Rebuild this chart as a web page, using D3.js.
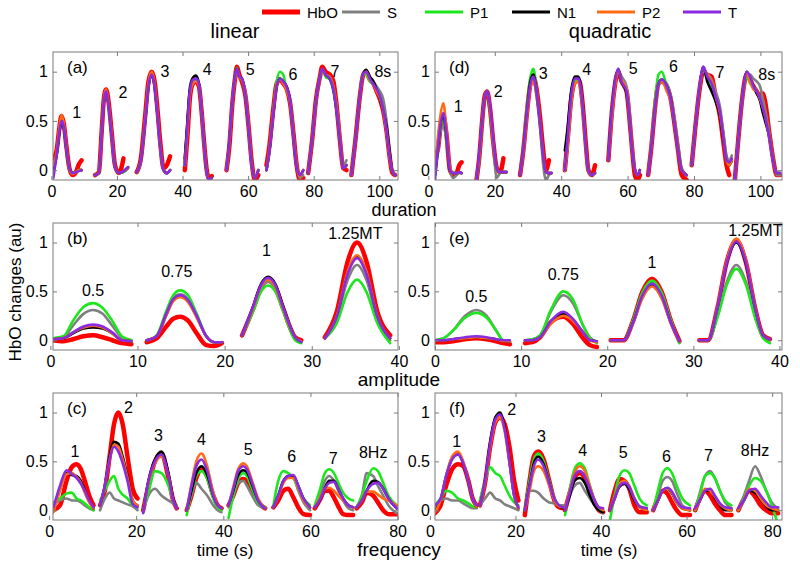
<!DOCTYPE html>
<html><head><meta charset="utf-8">
<script src="https://cdn.jsdelivr.net/npm/d3@7"></script>
<style>body{margin:0;background:#fff} svg{display:block;font-family:Arial,"Liberation Sans",sans-serif}</style>
</head><body><svg id="c" width="800" height="570"></svg>
<script>
// ---------- series ----------
const seriesNames = ["HbO","S","P1","N1","P2","T"];
const seriesColors = ["#ff0000","#808080","#1ee61e","#000000","#ff6a13","#8a2be2"];
const seriesWidths = [4.5,2.6,2.6,2.6,2.6,2.6];

// ---------- (a) duration, linear ----------
const durLinX = [
 [0.6,1.6,2.4,3.1,3.8,4.6,5.5,6.5,7.5,8.4,9.2],
 [13.3,14.5,15.3,16.0,16.7,17.5,18.4,19.4,20.6,22.0,23.4],
 [26.0,27.3,28.6,29.6,30.6,31.5,32.4,33.3,34.2,35.2,36.2],
 [40.7,41.5,42.3,43.2,44.1,45.0,45.8,46.6,47.3,48.0,48.9],
 [53.4,54.3,55.2,56.0,56.6,57.3,58.1,59.2,60.2,61.1,62.1,63.1],
 [65.6,66.5,67.6,68.7,69.7,70.7,71.7,72.8,73.8,74.8,75.8,76.8],
 [78.3,79.5,80.7,81.9,82.6,83.6,84.9,86.0,87.0,88.0,89.0,90.0],
 [91.5,92.7,93.9,95.1,96.0,97.1,98.2,99.2,100.2,101.2,102.2,103.1,103.9,104.8]];
const durLinHbO = [
 [0.12,0.2,0.42,0.55,0.47,0.24,0.02,-0.05,-0.02,0.06,0.1],
 [-0.05,-0.02,0.37,0.72,0.82,0.68,0.38,0.05,-0.03,0.12,null],
 [-0.02,0.12,0.55,0.9,1.0,0.9,0.6,0.25,0.02,0.05,0.14],
 [0.0,0.35,0.75,0.88,0.9,0.85,0.6,0.27,0.02,-0.08,-0.06],
 [0.0,0.25,0.68,0.93,1.05,0.97,0.9,0.75,0.42,0.08,-0.1,-0.05],
 [0.05,0.25,0.6,0.88,0.92,0.88,0.83,0.68,0.38,0.05,-0.1,-0.08],
 [-0.03,0.3,0.72,0.95,1.05,1.0,0.97,0.9,0.65,0.3,0.02,0.0],
 [-0.05,0.3,0.7,0.97,1.0,0.92,0.88,0.8,0.72,0.6,0.4,0.15,-0.02,-0.05]];
const durLinS = [
 [0.0,0.15,0.38,0.49,0.43,0.2,0.0,-0.03,-0.02,0.0,0.0],
 [-0.05,-0.03,0.35,0.7,0.8,0.65,0.35,0.03,-0.03,-0.02,0.02],
 [-0.02,0.1,0.5,0.85,0.97,0.85,0.55,0.2,0.0,-0.03,0.0],
 [0.05,0.45,0.8,0.9,0.92,0.87,0.6,0.25,0.0,-0.1,-0.08],
 [0.0,0.3,0.7,0.93,1.02,0.95,0.92,0.78,0.42,0.06,-0.08,0.0],
 [0.0,0.2,0.55,0.85,0.92,0.9,0.83,0.7,0.38,0.05,-0.08,-0.05],
 [-0.03,0.3,0.7,0.93,1.0,0.97,0.95,0.85,0.65,0.35,0.05,0.1],
 [-0.05,0.3,0.7,0.97,1.0,0.95,0.9,0.85,0.8,0.72,0.5,0.2,0.0,-0.05]];
const durLinP1 = [
 [0.0,0.15,0.38,0.5,0.44,0.21,0.01,-0.03,-0.02,0.0,0.0],
 [-0.05,-0.03,0.35,0.7,0.8,0.65,0.35,0.03,-0.03,-0.02,0.02],
 [-0.02,0.1,0.5,0.86,0.99,0.86,0.55,0.2,0.0,-0.03,0.0],
 [0.05,0.45,0.82,0.92,0.93,0.88,0.6,0.25,0.0,-0.1,-0.08],
 [0.0,0.3,0.7,0.95,1.04,0.95,0.92,0.75,0.4,0.05,-0.08,0.0],
 [0.0,0.2,0.58,0.9,1.0,0.97,0.82,0.7,0.35,0.03,-0.05,0.0],
 [-0.03,0.3,0.7,0.95,1.02,0.95,0.92,0.8,0.6,0.3,0.02,0.05],
 [-0.05,0.3,0.7,0.98,0.97,0.9,0.87,0.82,0.75,0.62,0.4,0.15,0.0,-0.05]];
const durLinN1 = [
 [0.0,0.15,0.37,0.49,0.43,0.21,0.01,-0.03,-0.02,0.0,0.0],
 [-0.05,-0.03,0.35,0.7,0.8,0.65,0.35,0.03,-0.03,-0.01,0.03],
 [-0.02,0.1,0.5,0.85,0.97,0.85,0.55,0.2,0.0,-0.03,0.0],
 [0.12,0.5,0.85,0.94,0.96,0.88,0.6,0.25,0.0,-0.1,-0.08],
 [0.0,0.3,0.7,0.95,1.03,0.95,0.93,0.75,0.4,0.05,-0.08,0.0],
 [0.0,0.2,0.55,0.85,0.93,0.9,0.85,0.7,0.35,0.03,-0.05,0.0],
 [-0.03,0.3,0.7,0.95,1.03,0.97,0.93,0.82,0.6,0.3,0.02,0.05],
 [-0.05,0.3,0.7,0.98,1.02,0.95,0.9,0.82,0.72,0.6,0.45,0.2,0.0,-0.05]];
const durLinP2 = [
 [0.05,0.18,0.42,0.56,0.47,0.23,0.01,-0.04,-0.02,0.0,0.0],
 [-0.05,-0.03,0.36,0.72,0.82,0.66,0.36,0.03,-0.03,-0.01,0.02],
 [-0.02,0.1,0.52,0.88,1.0,0.87,0.56,0.2,0.0,-0.03,0.0],
 [0.05,0.4,0.78,0.88,0.9,0.86,0.6,0.25,0.0,-0.1,-0.08],
 [0.0,0.28,0.7,0.93,1.02,0.95,0.92,0.76,0.41,0.05,-0.08,0.0],
 [0.0,0.22,0.57,0.86,0.92,0.88,0.82,0.68,0.36,0.04,-0.06,0.0],
 [-0.03,0.3,0.7,0.95,1.03,0.97,0.94,0.84,0.62,0.3,0.02,0.05],
 [-0.05,0.3,0.7,0.97,1.0,0.92,0.87,0.8,0.73,0.6,0.4,0.15,0.0,-0.05]];
const durLinT = [
 [-0.08,0.15,0.38,0.5,0.44,0.22,0.02,-0.03,-0.02,-0.01,0.0],
 [-0.05,-0.03,0.35,0.7,0.8,0.65,0.35,0.03,-0.03,-0.01,0.03],
 [-0.02,0.1,0.5,0.85,0.97,0.85,0.55,0.2,0.0,-0.03,0.0],
 [0.05,0.45,0.82,0.92,0.93,0.88,0.6,0.25,0.0,-0.1,-0.08],
 [0.0,0.3,0.7,0.95,1.03,0.95,0.93,0.75,0.4,0.05,-0.08,0.0],
 [0.0,0.2,0.55,0.85,0.93,0.9,0.85,0.7,0.35,0.03,-0.05,0.0],
 [-0.03,0.3,0.7,0.95,1.03,0.97,0.93,0.82,0.6,0.3,0.02,0.05],
 [-0.05,0.3,0.7,0.98,1.0,0.93,0.87,0.82,0.75,0.62,0.4,0.15,0.0,-0.05]];

// ---------- (d) duration, quadratic ----------
const durQuadX = [
 [2.0,2.8,3.6,4.5,5.5,6.5,7.5,8.5,9.3,10.0],
 [14.5,15.3,16.2,17.0,17.7,18.6,19.6,20.6,21.6,22.6,23.6],
 [27.6,28.6,29.6,30.6,31.6,32.6,33.6,34.6,35.4,36.3,37.1],
 [41.1,42.0,43.0,44.2,45.0,45.7,46.6,47.4,48.2,49.2,50.2],
 [54.2,55.0,56.0,57.2,58.2,59.7,60.5,61.4,62.2,63.0,63.7],
 [66.2,67.2,68.3,69.3,70.3,71.8,73.0,74.0,75.2,76.3,77.8],
 [79.3,80.3,81.6,82.8,84.0,85.3,86.5,87.8,88.8,89.8,90.6,91.4],
 [92.3,93.3,94.6,95.9,96.9,97.9,98.9,99.9,100.6,101.4,102.6,103.9,104.9,105.9]];
const durQuadHbO = [
 [0.15,0.2,0.42,0.55,0.35,0.0,-0.05,-0.03,0.05,0.08],
 [-0.1,0.12,0.5,0.76,0.8,0.62,0.27,0.02,-0.02,0.12,null],
 [-0.05,0.2,0.55,0.85,0.95,0.82,0.55,0.2,0.0,0.1,null],
 [0.0,0.33,0.72,0.9,0.92,0.88,0.62,0.28,0.0,-0.05,0.05],
 [0.1,0.48,0.82,1.0,0.9,0.8,0.55,0.2,-0.05,-0.1,-0.05],
 [-0.05,0.25,0.65,0.88,0.9,0.85,0.72,0.5,0.2,-0.05,-0.1],
 [0.05,0.4,0.8,1.0,0.97,0.95,0.75,0.55,0.3,0.05,-0.05,null],
 [-0.1,0.3,0.75,0.98,0.92,0.85,0.8,0.75,0.78,0.7,0.4,0.1,-0.05,-0.05]];
const durQuadS = [
 [-0.05,0.15,0.38,0.45,0.3,0.0,-0.08,-0.05,-0.03,-0.03],
 [-0.1,0.1,0.48,0.75,0.8,0.6,0.22,-0.08,-0.03,-0.02,-0.02],
 [-0.05,0.2,0.55,0.85,0.93,0.75,0.45,0.05,-0.1,-0.05,-0.03],
 [0.0,0.3,0.72,0.9,0.9,0.85,0.58,0.22,-0.02,-0.05,-0.03],
 [0.1,0.45,0.82,1.0,0.95,0.85,0.62,0.25,0.02,-0.05,0.0],
 [-0.05,0.25,0.62,0.85,0.9,0.88,0.75,0.55,0.25,0.02,-0.05],
 [0.05,0.4,0.8,1.0,0.98,0.92,0.8,0.65,0.4,0.15,0.1,0.15],
 [-0.1,0.3,0.72,0.97,0.97,0.93,0.9,0.85,0.75,0.62,0.4,0.1,-0.05,-0.05]];
const durQuadP1 = [
 [-0.05,0.2,0.42,0.52,0.32,0.0,-0.03,-0.03,-0.02,-0.03],
 [-0.1,0.1,0.5,0.75,0.8,0.6,0.25,0.02,-0.02,-0.02,-0.02],
 [-0.05,0.22,0.6,0.92,1.03,0.82,0.5,0.15,-0.02,-0.03,-0.03],
 [0.0,0.3,0.7,0.9,0.92,0.88,0.6,0.25,0.0,-0.05,-0.03],
 [0.1,0.5,0.85,1.03,0.9,0.8,0.55,0.2,0.0,-0.05,0.0],
 [-0.05,0.28,0.72,0.97,1.0,0.85,0.72,0.5,0.2,0.0,-0.05],
 [0.05,0.4,0.82,1.03,0.92,0.85,0.72,0.58,0.35,0.1,0.05,0.1],
 [-0.1,0.3,0.75,0.95,0.88,0.85,0.8,0.73,0.65,0.55,0.35,0.08,-0.03,-0.03]];
const durQuadN1 = [
 [-0.05,0.2,0.45,0.56,0.34,0.0,-0.03,-0.03,-0.02,-0.03],
 [-0.1,0.1,0.5,0.76,0.8,0.6,0.25,0.02,-0.02,-0.02,-0.02],
 [-0.05,0.2,0.55,0.88,0.97,0.8,0.5,0.15,-0.02,-0.03,-0.03],
 [0.2,0.45,0.8,0.95,0.95,0.9,0.62,0.25,0.0,-0.05,-0.03],
 [0.1,0.5,0.85,1.02,0.9,0.78,0.55,0.2,0.0,-0.05,0.0],
 [-0.05,0.25,0.65,0.88,0.92,0.85,0.72,0.5,0.2,0.0,-0.05],
 [0.05,0.4,0.82,1.05,0.9,0.8,0.7,0.55,0.32,0.1,0.05,0.1],
 [-0.1,0.3,0.75,1.0,0.93,0.85,0.78,0.7,0.6,0.5,0.35,0.08,-0.03,-0.03]];
const durQuadP2 = [
 [0.0,0.3,0.55,0.68,0.4,0.02,-0.03,-0.03,-0.02,-0.03],
 [-0.1,0.1,0.5,0.76,0.8,0.6,0.25,0.02,-0.02,-0.02,-0.02],
 [-0.05,0.18,0.5,0.82,0.9,0.8,0.5,0.15,-0.02,-0.03,-0.03],
 [0.0,0.3,0.7,0.88,0.9,0.86,0.6,0.25,0.0,-0.05,-0.03],
 [0.1,0.45,0.8,1.0,0.92,0.82,0.55,0.2,0.0,-0.05,0.0],
 [-0.05,0.25,0.65,0.88,0.9,0.8,0.7,0.5,0.2,0.0,-0.05],
 [0.05,0.4,0.82,1.03,0.97,0.9,0.75,0.58,0.35,0.1,0.05,0.1],
 [-0.1,0.3,0.75,0.98,0.9,0.82,0.8,0.72,0.65,0.55,0.35,0.08,-0.03,-0.03]];
const durQuadT = [
 [-0.1,0.2,0.45,0.58,0.35,0.0,-0.03,-0.03,-0.02,-0.03],
 [-0.1,0.15,0.5,0.75,0.8,0.65,0.3,0.02,-0.02,-0.02,-0.02],
 [-0.05,0.2,0.55,0.85,0.95,0.8,0.5,0.15,-0.02,-0.03,-0.03],
 [0.0,0.35,0.75,0.93,0.93,0.88,0.6,0.25,0.0,-0.05,-0.03],
 [0.1,0.5,0.85,1.03,0.9,0.8,0.55,0.2,0.0,-0.05,0.0],
 [-0.05,0.25,0.65,0.88,0.92,0.85,0.72,0.5,0.2,0.0,-0.05],
 [0.05,0.4,0.82,1.05,0.95,0.88,0.75,0.6,0.35,0.1,0.08,0.12],
 [-0.1,0.3,0.75,1.0,0.95,0.85,0.8,0.73,0.65,0.55,0.35,0.08,-0.03,-0.03]];

// ---------- (b) amplitude, linear ----------
const ampLinX = [
 [0.3,1.5,2.6,3.8,4.9,6.0,7.1,8.2,9.3],
 [11.05,12.2,13.3,14.1,14.9,15.8,16.8,17.9,18.8,19.7],
 [22.0,23.3,24.2,25.0,25.8,26.7,28.1,28.8],
 [31.5,32.9,34.1,35.2,36.3,37.5,39.0]];
const ampLinHbO = [
 [0.0,-0.01,0.01,0.04,0.05,0.03,0.0,-0.03,-0.04],
 [-0.02,0.02,0.14,0.22,0.24,0.2,0.07,-0.05,-0.06,-0.03],
 [0.05,0.33,0.55,0.61,0.55,0.33,0.03,0.0],
 [0.03,0.3,0.8,1.0,0.8,0.3,0.05]];
const ampLinS = [
 [0.02,0.03,0.15,0.27,0.31,0.27,0.15,0.03,0.0],
 [0.0,0.05,0.28,0.43,0.47,0.42,0.25,0.04,-0.02,-0.02],
 [0.05,0.33,0.53,0.6,0.53,0.32,0.02,-0.02],
 [0.02,0.23,0.61,0.77,0.61,0.23,0.0]];
const ampLinP1 = [
 [0.02,0.04,0.2,0.34,0.38,0.33,0.2,0.04,0.0],
 [0.0,0.05,0.3,0.46,0.51,0.46,0.27,0.04,-0.02,-0.02],
 [0.05,0.3,0.5,0.56,0.5,0.3,0.0,-0.03],
 [0.02,0.18,0.49,0.62,0.49,0.18,-0.03]];
const ampLinN1 = [
 [0.01,0.02,0.07,0.12,0.13,0.12,0.07,0.0,-0.01],
 [0.0,0.04,0.26,0.41,0.45,0.4,0.24,0.04,-0.02,-0.02],
 [0.05,0.35,0.58,0.65,0.58,0.35,0.03,-0.01],
 [0.02,0.26,0.69,0.86,0.69,0.26,0.02]];
const ampLinP2 = [
 [0.01,0.02,0.08,0.13,0.15,0.13,0.07,0.0,-0.01],
 [0.0,0.04,0.25,0.4,0.44,0.39,0.23,0.04,-0.02,-0.02],
 [0.05,0.34,0.56,0.62,0.55,0.33,0.03,-0.01],
 [0.02,0.26,0.7,0.87,0.7,0.26,0.02]];
const ampLinT = [
 [0.01,0.02,0.08,0.14,0.16,0.14,0.08,0.0,-0.01],
 [0.0,0.04,0.27,0.42,0.46,0.41,0.25,0.04,-0.02,-0.02],
 [0.05,0.35,0.57,0.64,0.57,0.34,0.03,-0.02],
 [0.02,0.25,0.67,0.84,0.67,0.25,0.02]];

// ---------- (e) amplitude, quadratic ----------
const ampQuadX = [
 [0.0,1.0,2.1,3.5,4.8,6.0,7.1,7.9,8.7],
 [10.45,11.3,12.2,13.5,14.9,16.0,17.2,18.0,18.8],
 [20.4,21.9,23.0,24.1,25.2,26.3,27.4,28.4],
 [30.7,31.7,32.8,33.9,35.0,36.1,37.2,38.1,38.9]];
const ampQuadHbO = [
 [-0.02,-0.02,-0.01,0.01,0.02,0.01,-0.01,-0.03,-0.04],
 [-0.03,-0.02,0.03,0.19,0.24,0.17,0.02,-0.05,-0.07],
 [0.0,0.0,0.2,0.5,0.63,0.5,0.2,-0.01],
 [0.0,0.0,0.33,0.81,1.02,0.8,0.32,0.05,0.01]];
const ampQuadS = [
 [0.0,0.02,0.1,0.25,0.31,0.25,0.1,0.0,-0.01],
 [0.0,0.01,0.05,0.3,0.46,0.38,0.15,0.03,-0.02],
 [0.0,0.0,0.2,0.48,0.6,0.48,0.2,-0.02],
 [0.0,0.0,0.25,0.6,0.77,0.6,0.25,0.05,0.0]];
const ampQuadP1 = [
 [0.0,0.02,0.1,0.23,0.28,0.23,0.1,0.0,-0.01],
 [0.0,0.01,0.05,0.32,0.5,0.42,0.15,0.02,-0.03],
 [0.0,0.0,0.2,0.49,0.61,0.49,0.2,-0.03],
 [0.0,0.0,0.23,0.57,0.73,0.57,0.22,0.02,-0.03]];
const ampQuadN1 = [
 [0.0,0.0,0.01,0.02,0.03,0.02,0.01,-0.01,-0.01],
 [0.0,0.0,0.03,0.19,0.27,0.21,0.08,0.0,-0.01],
 [0.0,0.0,0.18,0.45,0.57,0.45,0.18,-0.01],
 [0.0,0.0,0.33,0.8,1.0,0.79,0.32,0.05,0.01]];
const ampQuadP2 = [
 [0.0,0.0,0.01,0.02,0.03,0.02,0.01,-0.01,-0.01],
 [0.0,0.0,0.03,0.17,0.25,0.2,0.08,0.0,-0.02],
 [0.0,0.0,0.17,0.43,0.55,0.43,0.17,-0.01],
 [0.0,0.0,0.34,0.82,1.04,0.82,0.33,0.05,0.01]];
const ampQuadT = [
 [0.0,0.0,0.01,0.03,0.04,0.03,0.01,0.0,0.0],
 [0.0,0.0,0.03,0.2,0.29,0.22,0.08,0.0,-0.01],
 [0.0,0.0,0.18,0.46,0.58,0.46,0.18,-0.01],
 [0.0,0.0,0.33,0.8,1.01,0.8,0.32,0.05,0.01]];

// ---------- (c) frequency, linear ----------
const freqLinX = [
 [1.0,2.5,4.0,5.2,6.3,7.3,8.2,9.2,10.2],
 [11.7,12.8,13.9,14.9,15.9,16.9,18.0,19.2,20.3],
 [21.6,22.8,24.3,25.8,27.4,28.5,29.3],
 [31.6,32.7,33.8,35.0,36.3,37.7,38.7,39.6],
 [41.2,42.3,43.4,44.6,45.4,46.6,48.0,49.6],
 [51.5,52.6,53.8,54.9,56.1,57.2,58.4,59.9],
 [61.0,62.1,63.3,64.3,65.4,66.4,67.5,68.7,69.8],
 [70.6,71.8,72.9,74.4,75.5,76.7,77.9,79.8]];
const freqLinHbO = [
 [0.0,0.05,0.3,0.44,0.47,0.42,0.3,0.15,0.05],
 [0.05,0.2,0.55,0.88,1.0,0.88,0.55,0.22,0.12],
 [0.0,0.25,0.5,0.58,0.33,0.1,0.02],
 [0.0,0.15,0.33,0.42,0.35,0.15,0.05,0.02],
 [0.05,0.15,0.28,0.32,0.3,0.2,0.08,0.02],
 [0.03,0.1,0.2,0.22,0.13,0.03,-0.04,-0.05],
 [0.02,0.1,0.2,0.2,0.13,0.04,-0.04,-0.05,-0.05],
 [0.02,0.08,0.18,0.15,0.08,0.0,-0.04,-0.04]];
const freqLinS = [
 [0.05,0.1,0.12,0.1,0.1,0.08,0.05,0.02,0.0],
 [0.0,0.12,0.18,0.12,0.1,0.08,0.06,0.04,0.0],
 [0.0,0.15,0.22,0.15,0.1,0.07,0.05],
 [0.0,0.15,0.28,0.22,0.15,0.05,0.0,-0.02],
 [0.03,0.15,0.28,0.3,0.25,0.15,0.05,0.02],
 [0.03,0.15,0.3,0.34,0.33,0.2,0.08,0.0],
 [0.03,0.15,0.3,0.35,0.3,0.2,0.1,0.02,0.0],
 [0.03,0.15,0.38,0.35,0.25,0.15,0.05,-0.03]];
const freqLinP1 = [
 [0.08,0.12,0.17,0.18,0.12,0.1,0.07,0.03,0.0],
 [0.1,0.2,0.3,0.35,0.22,0.16,0.12,0.05,0.03],
 [0.0,0.18,0.4,0.38,0.25,0.1,0.02],
 [-0.05,0.18,0.35,0.4,0.32,0.12,0.03,0.0],
 [-0.08,0.15,0.32,0.38,0.35,0.22,0.08,0.03],
 [0.05,0.3,0.4,0.38,0.33,0.22,0.12,0.05],
 [0.05,0.2,0.38,0.42,0.38,0.28,0.18,0.12,0.1],
 [0.03,0.15,0.3,0.43,0.4,0.28,0.15,0.05]];
const freqLinN1 = [
 [0.0,0.22,0.38,0.36,0.35,0.3,0.2,0.1,0.02],
 [0.05,0.25,0.55,0.7,0.68,0.55,0.35,0.1,0.05],
 [-0.02,0.3,0.52,0.6,0.38,0.12,0.02],
 [0.0,0.2,0.38,0.45,0.36,0.15,0.05,0.02],
 [0.05,0.2,0.36,0.41,0.39,0.26,0.1,0.02],
 [0.03,0.15,0.3,0.35,0.35,0.25,0.12,0.03],
 [0.03,0.1,0.23,0.3,0.3,0.22,0.12,0.05,0.03],
 [0.03,0.1,0.2,0.3,0.29,0.22,0.12,0.02]];
const freqLinP2 = [
 [-0.02,0.2,0.37,0.38,0.34,0.28,0.18,0.08,0.02],
 [0.05,0.25,0.52,0.67,0.65,0.52,0.33,0.1,0.05],
 [-0.02,0.28,0.48,0.55,0.35,0.1,0.02],
 [0.0,0.27,0.5,0.58,0.45,0.18,0.05,0.02],
 [0.05,0.24,0.42,0.48,0.45,0.3,0.12,0.02],
 [0.03,0.14,0.28,0.33,0.33,0.23,0.1,0.03],
 [0.03,0.12,0.22,0.23,0.2,0.15,0.1,0.05,0.03],
 [0.03,0.1,0.19,0.19,0.16,0.12,0.1,0.05]];
const freqLinT = [
 [0.03,0.25,0.41,0.37,0.33,0.27,0.2,0.1,0.03],
 [0.05,0.25,0.52,0.65,0.6,0.48,0.3,0.06,0.03],
 [-0.03,0.3,0.5,0.57,0.35,0.1,0.02],
 [0.0,0.25,0.45,0.52,0.4,0.15,0.05,0.02],
 [0.05,0.22,0.4,0.45,0.42,0.28,0.1,0.02],
 [0.03,0.15,0.3,0.35,0.36,0.25,0.12,0.03],
 [0.03,0.1,0.22,0.28,0.29,0.22,0.12,0.05,0.03],
 [0.03,0.1,0.2,0.27,0.28,0.22,0.12,0.02]];

// ---------- (f) frequency, quadratic ----------
const freqQuadX = [
 [1.2,2.5,3.8,5.2,6.6,7.8,9.0,10.0,10.9],
 [11.7,12.9,14.1,15.3,16.4,17.5,18.6,19.7,20.7],
 [22.2,23.3,24.3,25.3,26.6,27.9,29.1,30.2,31.2],
 [31.6,32.7,33.8,35.0,36.2,37.4,38.5,39.5,40.5],
 [42.1,43.2,44.3,45.5,46.6,47.8,49.0,50.7],
 [52.2,53.3,54.4,55.5,56.6,57.7,59.0,60.8],
 [62.0,63.1,64.3,65.5,66.6,67.8,69.0,70.5],
 [72.1,73.4,74.6,76.0,77.3,78.6,79.9,81.4]];
const freqQuadHbO = [
 [-0.03,0.05,0.25,0.42,0.47,0.45,0.3,0.12,0.05],
 [0.05,0.28,0.65,0.9,0.95,0.88,0.65,0.3,0.1],
 [-0.05,0.3,0.55,0.6,0.52,0.3,0.1,0.03,0.02],
 [0.0,0.18,0.33,0.38,0.33,0.2,0.08,0.0,-0.02],
 [0.0,0.2,0.32,0.3,0.22,0.05,-0.02,-0.02],
 [0.0,0.12,0.2,0.17,0.08,0.0,-0.05,-0.05],
 [0.0,0.12,0.2,0.15,0.07,0.0,-0.05,-0.05],
 [0.0,0.12,0.2,0.14,0.05,0.0,-0.03,-0.03]];
const freqQuadS = [
 [0.05,0.1,0.12,0.1,0.1,0.07,0.04,0.02,0.02],
 [0.05,0.12,0.18,0.12,0.1,0.06,0.04,0.02,0.0],
 [0.0,0.2,0.2,0.18,0.12,0.08,0.07,0.05,0.05],
 [0.0,0.15,0.25,0.28,0.2,0.12,0.05,0.0,-0.03],
 [0.0,0.15,0.25,0.28,0.22,0.12,0.04,0.02],
 [0.0,0.15,0.3,0.34,0.3,0.18,0.05,0.0],
 [0.0,0.18,0.35,0.4,0.33,0.2,0.08,0.02],
 [0.0,0.15,0.3,0.45,0.35,0.2,0.08,0.02]];
const freqQuadP1 = [
 [0.05,0.12,0.2,0.18,0.12,0.1,0.07,0.04,0.03],
 [0.1,0.3,0.44,0.38,0.35,0.25,0.15,0.08,0.05],
 [0.0,0.3,0.52,0.58,0.5,0.3,0.12,0.05,0.03],
 [-0.05,0.22,0.42,0.48,0.43,0.25,0.1,0.02,0.0],
 [-0.1,0.15,0.35,0.41,0.38,0.25,0.12,0.05],
 [0.0,0.2,0.38,0.43,0.38,0.25,0.12,0.05],
 [0.0,0.15,0.35,0.38,0.33,0.2,0.1,0.05],
 [0.0,0.12,0.25,0.33,0.3,0.2,0.05,-0.15]];
const freqQuadN1 = [
 [0.0,0.1,0.35,0.53,0.57,0.48,0.3,0.12,0.03],
 [0.05,0.3,0.7,0.95,1.0,0.85,0.5,0.15,0.02],
 [0.0,0.25,0.48,0.55,0.47,0.28,0.1,0.04,0.02],
 [0.0,0.15,0.3,0.33,0.28,0.15,0.05,0.0,-0.02],
 [0.0,0.12,0.24,0.27,0.22,0.1,0.03,0.0],
 [0.0,0.1,0.2,0.22,0.17,0.08,0.02,0.0],
 [0.0,0.1,0.2,0.2,0.13,0.05,0.0,0.0],
 [0.0,0.1,0.2,0.18,0.11,0.04,0.0,0.0]];
const freqQuadP2 = [
 [-0.02,0.1,0.35,0.55,0.6,0.5,0.3,0.12,0.03],
 [0.05,0.28,0.65,0.9,0.95,0.8,0.48,0.15,0.02],
 [0.0,0.2,0.4,0.45,0.4,0.25,0.1,0.04,0.03],
 [0.0,0.2,0.38,0.45,0.4,0.25,0.1,0.03,0.0],
 [0.0,0.12,0.26,0.3,0.25,0.12,0.03,0.0],
 [0.0,0.1,0.2,0.22,0.18,0.08,0.02,0.0],
 [0.0,0.1,0.22,0.2,0.14,0.06,0.02,0.0],
 [0.0,0.1,0.22,0.2,0.12,0.05,0.02,0.0]];
const freqQuadT = [
 [0.05,0.12,0.35,0.52,0.57,0.48,0.3,0.12,0.05],
 [0.05,0.3,0.68,0.93,0.98,0.83,0.5,0.15,0.03],
 [0.0,0.25,0.45,0.52,0.45,0.28,0.12,0.05,0.03],
 [0.0,0.18,0.35,0.4,0.35,0.22,0.1,0.03,0.02],
 [0.0,0.12,0.25,0.28,0.24,0.12,0.04,0.02],
 [0.0,0.1,0.2,0.23,0.19,0.1,0.03,0.02],
 [0.02,0.1,0.2,0.22,0.15,0.07,0.03,0.02],
 [0.02,0.1,0.2,0.22,0.15,0.08,0.03,0.03]];

// ---------- annotations (text, data-x, data-y) ----------
const durLabels = ["1","2","3","4","5","6","7","8s"];
const durLinLabelX = [7.7,21.8,34.6,47.5,60.6,73.7,86.5,101.1];
const durLinLabelY = [0.59,0.79,1.0,1.02,1.02,0.97,1.0,1.0];
const durQuadLabelX = [9.0,21.05,34.6,47.7,61.7,73.8,87.8,101.9];
const durQuadLabelY = [0.645,0.8,0.98,1.02,1.03,1.05,0.99,0.97];
const ampLabels = ["0.5","0.75","1","1.25MT"];
const ampLinLabelX = [4.9,14.5,24.8,35.0];
const ampLinLabelY = [0.51,0.70,0.92,1.09];
const ampQuadLabelX = [4.8,14.9,25.2,37.2];
const ampQuadLabelY = [0.45,0.67,0.80,1.12];
const freqLabels = ["1","2","3","4","5","6","7","8Hz"];
const freqLinLabelX = [5.95,18.2,25.1,35.0,45.7,55.7,65.2,74.4];
const freqLinLabelY = [0.606,1.053,0.77,0.726,0.623,0.555,0.531,0.589];
const freqQuadLabelX = [6.3,19.1,26.1,35.7,45.2,55.3,65.1,76.0];
const freqQuadLabelY = [0.706,1.03,0.757,0.614,0.587,0.553,0.563,0.614];

const yTicks = [0,0.5,1];

// ---------- drawing ----------
const svg = d3.select('#c');
const FONT = 'Arial, "Liberation Sans", sans-serif';
const axisColor = '#7a7a7a';

const panels = [
 {tag:"(a)", X:durLinX, Y:[durLinHbO,durLinS,durLinP1,durLinN1,durLinP2,durLinT], box:[53,52,398,180], xd:[0.5,105.7], xt:[0,20,40,60,80,100], lt:durLabels, lx:durLinLabelX, ly:durLinLabelY},
 {tag:"(d)", X:durQuadX, Y:[durQuadHbO,durQuadS,durQuadP1,durQuadN1,durQuadP2,durQuadT], box:[435,52,782,180], xd:[2,106.5], xt:[0,20,40,60,80,100], lt:durLabels, lx:durQuadLabelX, ly:durQuadLabelY},
 {tag:"(b)", X:ampLinX, Y:[ampLinHbO,ampLinS,ampLinP1,ampLinN1,ampLinP2,ampLinT], box:[53,223,398,350], xd:[0.3,39.9], xt:[0,10,20,30,40], lt:ampLabels, lx:ampLinLabelX, ly:ampLinLabelY},
 {tag:"(e)", X:ampQuadX, Y:[ampQuadHbO,ampQuadS,ampQuadP1,ampQuadN1,ampQuadP2,ampQuadT], box:[435,223,782,350], xd:[0,40.3], xt:[0,10,20,30,40], lt:ampLabels, lx:ampQuadLabelX, ly:ampQuadLabelY},
 {tag:"(c)", X:freqLinX, Y:[freqLinHbO,freqLinS,freqLinP1,freqLinN1,freqLinP2,freqLinT], box:[53,393,398,520], xd:[0.9,80.1], xt:[0,20,40,60,80], lt:freqLabels, lx:freqLinLabelX, ly:freqLinLabelY},
 {tag:"(f)", X:freqQuadX, Y:[freqQuadHbO,freqQuadS,freqQuadP1,freqQuadN1,freqQuadP2,freqQuadT], box:[435,393,782,520], xd:[1.2,82.3], xt:[0,20,40,60,80], lt:freqLabels, lx:freqQuadLabelX, ly:freqQuadLabelY}
];

const defs = svg.append('defs');
panels.forEach((p,pi)=>{
  const [x0,y0,x1,y1] = p.box;
  const x = d3.scaleLinear().domain(p.xd).range([x0,x1]);
  const y = d3.scaleLinear().domain([-0.1,1.2]).range([y1,y0]);
  const cid = 'clip'+pi;
  defs.append('clipPath').attr('id',cid).append('rect')
     .attr('x',x0).attr('y',y0).attr('width',x1-x0).attr('height',y1-y0);
  const g = svg.append('g');
  const lg = g.append('g').attr('clip-path',`url(#${cid})`);
  const line = d3.line().defined(d=>d[1]!==null).x(d=>x(d[0])).y(d=>y(d[1])).curve(d3.curveMonotoneX);
  seriesNames.forEach((nm,si)=>{
    p.X.forEach((xs,s)=>{
      const pts = xs.map((xv,k)=>[xv,p.Y[si][s][k]]);
      lg.append('path').attr('d',line(pts)).attr('fill','none')
        .attr('stroke',seriesColors[si]).attr('stroke-width',seriesWidths[si])
        .attr('stroke-linejoin','round').attr('stroke-linecap','round');
    });
  });
  // box
  g.append('rect').attr('x',x0).attr('y',y0).attr('width',x1-x0).attr('height',y1-y0)
    .attr('fill','none').attr('stroke',axisColor).attr('stroke-width',1);
  const style = sel=>{
    sel.select('.domain').remove();
    sel.selectAll('.tick line').attr('stroke',axisColor);
    sel.selectAll('.tick text').attr('fill','#000').attr('font-size',16).attr('font-family',FONT);
  };
  g.append('g').attr('transform',`translate(0,${y1})`)
    .call(d3.axisBottom(x).tickValues(p.xt).tickSize(-4).tickPadding(6).tickFormat(d3.format('d'))).call(style);
  g.append('g').attr('transform',`translate(0,${y0})`)
    .call(d3.axisTop(x).tickValues(p.xt.filter(v=>v>=p.xd[0]&&v<=p.xd[1])).tickSize(-4).tickFormat('')).call(style);
  g.append('g').attr('transform',`translate(${x0},0)`)
    .call(d3.axisLeft(y).tickValues(yTicks).tickSize(-4).tickPadding(5).tickFormat(d=>d===0.5?'0.5':String(d))).call(style);
  g.append('g').attr('transform',`translate(${x1},0)`)
    .call(d3.axisRight(y).tickValues(yTicks).tickSize(-4).tickFormat('')).call(style);
  // panel tag
  g.append('text').attr('x',x0+14).attr('y',y0+21).text(p.tag)
    .attr('font-size',17).attr('font-family',FONT);
  // annotations
  p.lt.forEach((t,i)=>{
    g.append('text').attr('x',x(p.lx[i])).attr('y',y(p.ly[i])).attr('dy','0.35em')
      .attr('text-anchor','middle').attr('font-size',16).attr('font-family',FONT).text(t);
  });
});

// titles
const title = (txt,xp,yp,fs)=>svg.append('text').attr('x',xp).attr('y',yp).attr('text-anchor','middle')
   .attr('font-size',fs).attr('font-family',FONT).text(txt);
title('linear',235,38,20);
title('quadratic',610,38,20);
title('duration',404,216,18);
title('amplitude',399,386,19);
title('frequency',399,556,19);
title('time (s)',225,556,17);
title('time (s)',609,556,17);
svg.append('text').attr('transform','translate(21,292) rotate(-90)').attr('text-anchor','middle')
  .attr('font-size',17).attr('font-family',FONT).text('HbO changes (au)');

// legend
const legStarts = [262,342,425,512,597,683];
const legG = svg.append('g');
seriesNames.forEach((nm,i)=>{
  const lx = legStarts[i];
  legG.append('line').attr('x1',lx).attr('x2',lx+38).attr('y1',12).attr('y2',12)
    .attr('stroke',seriesColors[i]).attr('stroke-width',i===0?5:3);
  legG.append('text').attr('x',lx+45).attr('y',17.5).attr('font-size',15).attr('font-family',FONT).text(nm);
});
</script>
</body></html>
